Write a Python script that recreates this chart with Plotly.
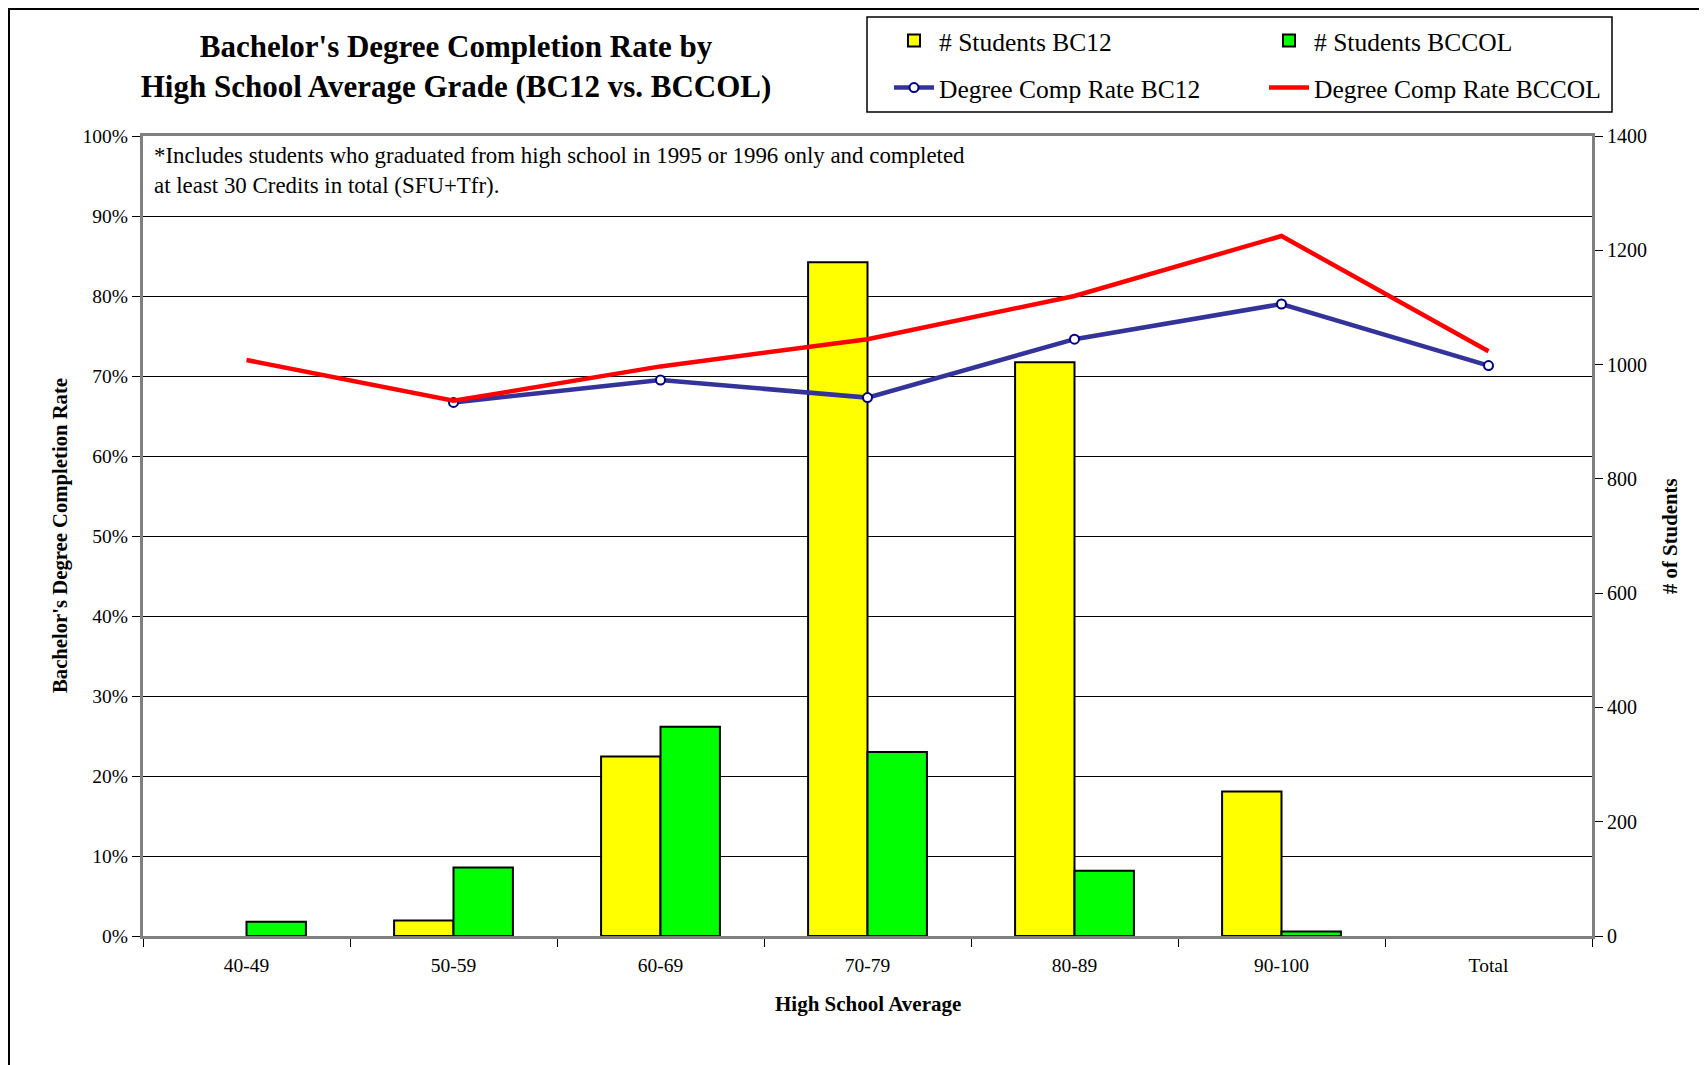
import plotly.graph_objects as go

categories = ["40-49", "50-59", "60-69", "70-79", "80-89", "90-100", "Total"]
students_bc12 = [None, 27, 314, 1179, 1004, 253, None]
students_bccol = [25, 120, 366, 322, 114, 8, None]
rate_bc12 = [None, 0.667, 0.695, 0.673, 0.746, 0.790, 0.713]
rate_bccol = [0.720, 0.669, 0.712, 0.746, 0.800, 0.875, 0.731]

SERIF = "Liberation Serif"

fig = go.Figure()
fig.add_trace(go.Bar(x=categories, y=students_bc12, name="# Students BC12",
                     marker=dict(color="#FFFF00", line=dict(color="black", width=2)),
                     yaxis="y", legend="legend"))
fig.add_trace(go.Bar(x=categories, y=students_bccol, name="# Students BCCOL",
                     marker=dict(color="#00FF00", line=dict(color="black", width=2)),
                     yaxis="y", legend="legend"))
fig.add_trace(go.Scatter(x=categories, y=rate_bc12, name="Degree Comp Rate BC12",
                         mode="lines+markers",
                         line=dict(color="#333399", width=4.5),
                         marker=dict(symbol="circle", size=9, color="white",
                                     line=dict(color="#000080", width=2)),
                         yaxis="y2", legend="legend2"))
fig.add_trace(go.Scatter(x=categories, y=rate_bccol, name="Degree Comp Rate BCCOL",
                         mode="lines", line=dict(color="#FF0000", width=4.5),
                         yaxis="y2", legend="legend2"))

# page has an 8px body margin: figure sized to fill the rest of the window
OFF = 8
W, H = 1707 - OFF, 1065 - OFF
# target plot area in page pixels
PL, PR, PT, PB = 143, 1592, 136, 936
L, T = PL - OFF, PT - OFF
R = W - (PR - OFF)
B = H - (PB - OFF)
PW, PH = W - L - R, H - T - B

def px(xp):  # page x -> paper
    return (xp - OFF - L) / PW

def py(yp):  # page y -> paper
    return (H - B - (yp - OFF)) / PH

legend_common = dict(orientation="h", xanchor="left", yanchor="middle",
                     font=dict(family=SERIF, size=25.5, color="black"),
                     bgcolor="rgba(0,0,0,0)", borderwidth=0, entrywidth=320,
                     itemwidth=40)

fig.update_layout(
    width=W, height=H,
    margin=dict(l=L, r=R, t=T, b=B, autoexpand=False),
    paper_bgcolor="white", plot_bgcolor="white",
    barmode="group", bargap=0.426, bargroupgap=0,
    title=dict(text="<b>Bachelor's Degree Completion Rate by<br>High School Average Grade (BC12 vs. BCCOL)</b>",
               font=dict(family=SERIF, size=31, color="black"),
               xref="container", x=(456 - OFF) / W, xanchor="center",
               yref="container", y=1 - 49 / H, yanchor="middle"),
    xaxis=dict(type="category", tickson="boundaries", ticks="outside", ticklen=8,
               tickcolor="black", showline=True, linecolor="#808080", linewidth=3,
               mirror=True, showgrid=False, automargin=False,
               tickfont=dict(family=SERIF, size=19.5, color="black"),
               ticklabelstandoff=10),
    yaxis=dict(side="right", range=[0, 1400], dtick=200, ticks="outside", ticklen=8,
               tickcolor="black", showline=True, linecolor="#808080", linewidth=3,
               showgrid=False, zeroline=False, automargin=False,
               tickfont=dict(family=SERIF, size=20, color="black")),
    yaxis2=dict(overlaying="y", side="left", range=[0, 1], dtick=0.1, tickformat=".0%",
                ticks="outside", ticklen=8, tickcolor="black",
                showline=True, linecolor="#808080", linewidth=3,
                showgrid=True, gridcolor="black", gridwidth=1, zeroline=False,
                automargin=False,
                tickfont=dict(family=SERIF, size=19.5, color="black")),
    legend=dict(legend_common, x=px(889), y=py(41)),
    legend2=dict(legend_common, x=px(889), y=py(88)),
    showlegend=True,
)

fig.add_annotation(text="*Includes students who graduated from high school in 1995 or 1996 only and completed<br>at least 30 Credits in total (SFU+Tfr).",
                   xref="paper", yref="paper", x=px(152), y=py(141),
                   xanchor="left", yanchor="top", align="left", showarrow=False,
                   font=dict(family=SERIF, size=22.9, color="black"))
fig.add_annotation(text="<b>High School Average</b>", xref="paper", yref="paper",
                   x=px(868), y=py(1004), xanchor="center", yanchor="middle", showarrow=False,
                   font=dict(family=SERIF, size=21, color="black"))
fig.add_annotation(text="<b>Bachelor's Degree Completion Rate</b>", xref="paper", yref="paper",
                   x=px(60), y=0.5, xanchor="center", yanchor="middle", textangle=-90,
                   showarrow=False, font=dict(family=SERIF, size=20.7, color="black"))
fig.add_annotation(text="<b># of Students</b>", xref="paper", yref="paper",
                   x=px(1669), y=0.5, xanchor="center", yanchor="middle", textangle=-90,
                   showarrow=False, font=dict(family=SERIF, size=20.8, color="black"))

# legend box
fig.add_shape(type="rect", xref="paper", yref="paper",
              x0=px(867), x1=px(1612), y0=py(112), y1=py(17),
              line=dict(color="black", width=1.5), fillcolor="rgba(0,0,0,0)")
# outer chart frame (top and left edges visible)
fig.add_shape(type="rect", xref="paper", yref="paper",
              x0=px(OFF + 1), x1=px(1760), y0=py(1120), y1=py(OFF + 1),
              line=dict(color="black", width=2), fillcolor="rgba(0,0,0,0)")

fig.write_html("out.html")
